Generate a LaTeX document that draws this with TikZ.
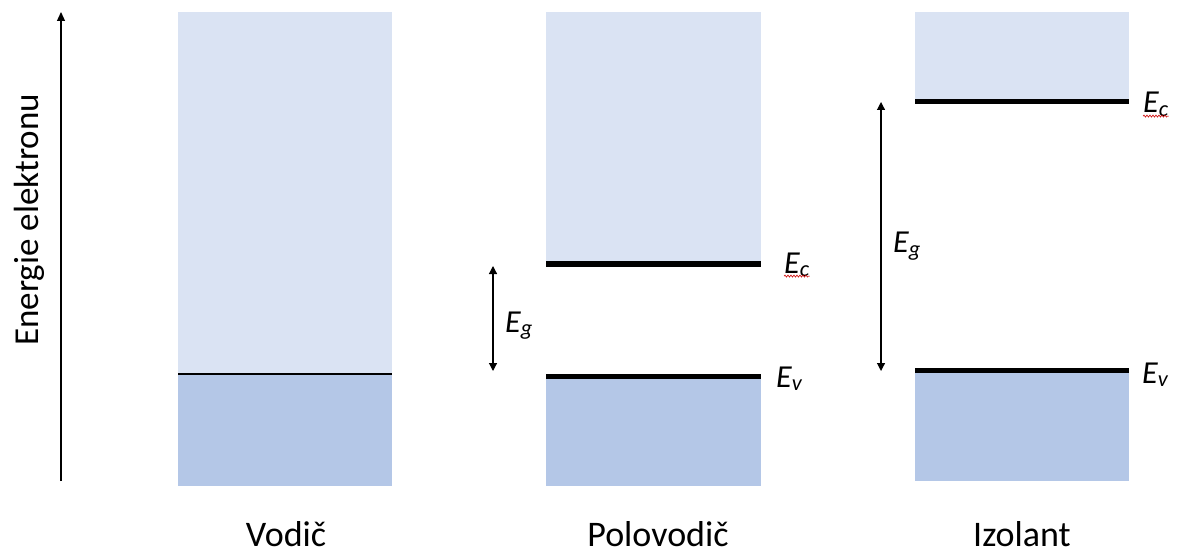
\documentclass[tikz,border=0pt]{standalone}
\usepackage{fontspec}
\setmainfont{Carlito}
\usetikzlibrary{arrows.meta,decorations.pathmorphing}
\definecolor{cband}{HTML}{DAE3F3}
\definecolor{vband}{HTML}{B4C7E7}
\tikzset{
  x=1pt,y=-1pt,
  cbox/.style={fill=cband,draw=none},
  vbox/.style={fill=vband,draw=none},
  thinlevel/.style={line width=2.2pt,black},
  thicklevel/.style={line width=5pt,black},
  gaparrow/.style={{Triangle[length=8pt,width=8pt]}-{Triangle[length=8pt,width=8pt]},line width=1.2pt},
  lbl/.style={font=\fontsize{36}{40}\selectfont,inner sep=0pt,anchor=base},
  elbl/.style={font=\fontsize{32}{36}\selectfont\itshape,inner sep=0pt,anchor=base west},
  spell/.style={red!80!black,line width=0.6pt,decorate,decoration={snake,amplitude=1pt,segment length=3pt}}
}
\begin{document}
\begin{tikzpicture}
\useasboundingbox (0,0) rectangle (1177,553);
% Vodic
\fill[cbox] (178,12) rectangle (392,374);
\fill[vbox] (178,374) rectangle (392,486);
\coordinate (v1) at (178,374); \coordinate (v2) at (392,374);
\draw[thinlevel] (v1) -- (v2);
% Polovodic
\fill[cbox] (546,12) rectangle (761,264);
\fill[vbox] (546,376) rectangle (761,486);
\coordinate (pc1) at (546,264); \coordinate (pc2) at (761,264);
\coordinate (pv1) at (546,376); \coordinate (pv2) at (761,376);
\draw[thicklevel] (pc1) -- (pc2);
\draw[thicklevel] (pv1) -- (pv2);
% Izolant
\fill[cbox] (915,12) rectangle (1129,102);
\fill[vbox] (915,370) rectangle (1129,481);
\coordinate (ic1) at (915,102); \coordinate (ic2) at (1129,102);
\coordinate (iv1) at (915,370); \coordinate (iv2) at (1129,370);
\draw[thicklevel] (ic1) -- (ic2);
\draw[thicklevel] (iv1) -- (iv2);
% energy axis
\coordinate (a0) at (61,481); \coordinate (a1) at (61,12);
\draw[-{Triangle[length=9pt,width=8pt]},line width=1.2pt] (a0) -- (a1);
\node[font=\fontsize{35}{40}\selectfont,inner sep=0pt,anchor=base,rotate=90] (en) at (38,220) {Energie elektronu};
% gap arrows
\coordinate (pg1) at (493,266); \coordinate (pg2) at (493,371);
\draw[gaparrow] (pg1) -- (pg2);
\node[elbl] (pEg) at (505,332) {E\textsubscript{g}};
\coordinate (ig1) at (881,102); \coordinate (ig2) at (881,371);
\draw[gaparrow] (ig1) -- (ig2);
\node[elbl] (iEg) at (893,253) {E\textsubscript{g}};
% level labels
\node[elbl] (pEc) at (784,273) {E\textsubscript{c}};
\draw[spell] ([yshift=1pt]pEc.south west) -- ([yshift=1pt]pEc.south east);
\node[elbl] (pEv) at (776,387) {E\textsubscript{v}};
\node[elbl] (iEc) at (1143,113) {E\textsubscript{c}};
\draw[spell] ([yshift=1pt]iEc.south west) -- ([yshift=1pt]iEc.south east);
\node[elbl] (iEv) at (1142,383) {E\textsubscript{v}};
% material labels
\node[lbl] (tv) at (286,546) {Vodič};
\node[lbl] (tp) at (658,546) {Polovodič};
\node[lbl] (ti) at (1022,546) {Izolant};
\end{tikzpicture}
\end{document}
